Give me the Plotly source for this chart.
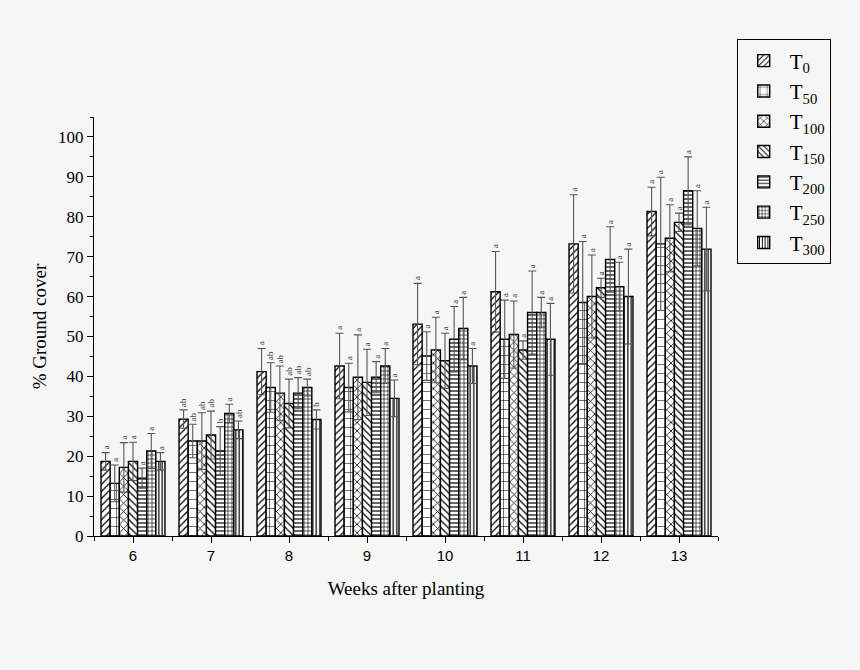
import plotly.graph_objects as go

weeks = [6, 7, 8, 9, 10, 11, 12, 13]
series_names = ["T<sub>0</sub>", "T<sub>50</sub>", "T<sub>100</sub>", "T<sub>150</sub>",
                "T<sub>200</sub>", "T<sub>250</sub>", "T<sub>300</sub>"]

T0 = [18.7, 29.3, 41.2, 42.6, 53.1, 61.2, 73.2, 81.3]
T50 = [13.2, 23.8, 37.2, 37.2, 45.1, 49.3, 58.5, 73.2]
T100 = [17.2, 23.8, 35.8, 39.8, 46.6, 50.5, 60.0, 74.6]
T150 = [18.7, 25.3, 33.2, 38.5, 43.9, 46.6, 62.2, 78.6]
T200 = [14.5, 21.3, 35.8, 39.8, 49.3, 56.0, 69.3, 86.5]
T250 = [21.3, 30.7, 37.2, 42.6, 52.0, 56.0, 62.5, 77.1]
T300 = [18.7, 26.6, 29.2, 34.5, 42.6, 49.3, 60.0, 71.9]

E0 = [2.2, 2.3, 5.8, 8.2, 10.2, 10.1, 12.3, 6.1]
E50 = [4.6, 4.2, 6.2, 6.1, 6.1, 9.8, 15.3, 16.7]
E100 = [6.2, 7.1, 6.8, 10.6, 8.2, 8.4, 10.4, 8.4]
E150 = [4.8, 6.0, 6.1, 8.3, 6.9, 2.3, 2.4, 2.3]
E200 = [2.5, 6.1, 3.9, 3.9, 8.2, 10.4, 8.2, 8.5]
E250 = [4.4, 2.3, 2.1, 4.4, 7.8, 3.8, 6.1, 9.4]
E300 = [2.2, 2.2, 2.4, 4.6, 4.4, 9.0, 11.9, 10.5]

L0 = ["a", "ab", "a", "a", "a", "a", "a", "a"]
L50 = ["a", "ab", "ab", "a", "a", "a", "a", "a"]
L100 = ["a", "ab", "ab", "a", "a", "a", "a", "a"]
L150 = ["a", "ab", "ab", "a", "a", "a", "a", "a"]
L200 = ["a", "b", "ab", "a", "a", "a", "a", "a"]
L250 = ["a", "a", "ab", "a", "a", "a", "a", "a"]
L300 = ["a", "ab", "b", "a", "a", "a", "a", "a"]

values = [T0, T50, T100, T150, T200, T250, T300]
errors = [E0, E50, E100, E150, E200, E250, E300]
letters = [L0, L50, L100, L150, L200, L250, L300]

patterns = [
    dict(shape="/", size=5, solidity=0.25),
    dict(shape="+", size=9, solidity=0.12),
    dict(shape="x", size=6, solidity=0.25),
    dict(shape="\\", size=5, solidity=0.25),
    dict(shape="-", size=4, solidity=0.3),
    dict(shape="+", size=4, solidity=0.3),
    dict(shape="|", size=3.5, solidity=0.35),
]

BG = "#f6f6f6"
SERIF = "Liberation Serif"
bargap = 0.18

fig = go.Figure()
for name, v, e, p in zip(series_names, values, errors, patterns):
    fig.add_trace(go.Bar(
        x=weeks, y=v, name=name,
        marker=dict(color="white", line=dict(color="black", width=1.4),
                    pattern=dict(fgcolor="black", bgcolor="white", fillmode="replace", **p)),
        error_y=dict(type="data", array=e, visible=True, color="#555555",
                     thickness=1.1, width=4),
    ))

n = len(values)
w = (1 - bargap) / n
annotations = []
for i, (v, e, lab) in enumerate(zip(values, errors, letters)):
    for xk, yv, ev, t in zip(weeks, v, e, lab):
        annotations.append(dict(
            x=xk + (i - (n - 1) / 2) * w, y=yv + ev, xref="x", yref="y",
            text=t, showarrow=False, textangle=-90, yanchor="bottom",
            xanchor="center", yshift=1,
            font=dict(family=SERIF, size=9, color="#444444")))

fig.update_layout(
    width=860, height=670,
    paper_bgcolor=BG, plot_bgcolor=BG,
    margin=dict(l=94, r=142, t=117, b=134),
    barmode="group", bargap=bargap, bargroupgap=0,
    showlegend=True,
    legend=dict(x=1.03, y=1.185, xanchor="left", yanchor="top",
                bordercolor="black", borderwidth=1, bgcolor=BG,
                font=dict(family=SERIF, size=21, color="black"),
                tracegroupgap=0, itemwidth=42),
    annotations=annotations,
    font=dict(family=SERIF, color="black"),
)
fig.update_xaxes(
    range=[5.5, 13.5], tickmode="array", tickvals=weeks,
    ticks="outside", ticklen=6, tickwidth=1.2, tickcolor="black",
    showline=True, linecolor="black", linewidth=1.4, showgrid=False, zeroline=False,
    tickfont=dict(family="Liberation Sans", size=15, color="black"),
    minor=dict(tickmode="linear", tick0=5.5, dtick=1, ticks="outside", ticklen=4,
               tickwidth=1.2, tickcolor="black", showgrid=False),
    title=dict(text="Weeks after planting", font=dict(family=SERIF, size=19), standoff=18),
)
fig.update_yaxes(
    range=[0, 105], tickmode="linear", tick0=0, dtick=10,
    ticks="outside", ticklen=6, tickwidth=1.2, tickcolor="black",
    showline=True, linecolor="black", linewidth=1.4, showgrid=False, zeroline=False,
    tickfont=dict(family=SERIF, size=17, color="black"),
    minor=dict(tickmode="linear", tick0=5, dtick=10, ticks="outside", ticklen=3,
               tickwidth=1.2, tickcolor="black", showgrid=False),
    title=dict(text="% Ground cover", font=dict(family=SERIF, size=19), standoff=6),
)

fig.write_html(
    "out.html",
    config={"displayModeBar": False},
    post_script="document.body.style.margin='0';document.body.style.background='%s';" % BG,
)
